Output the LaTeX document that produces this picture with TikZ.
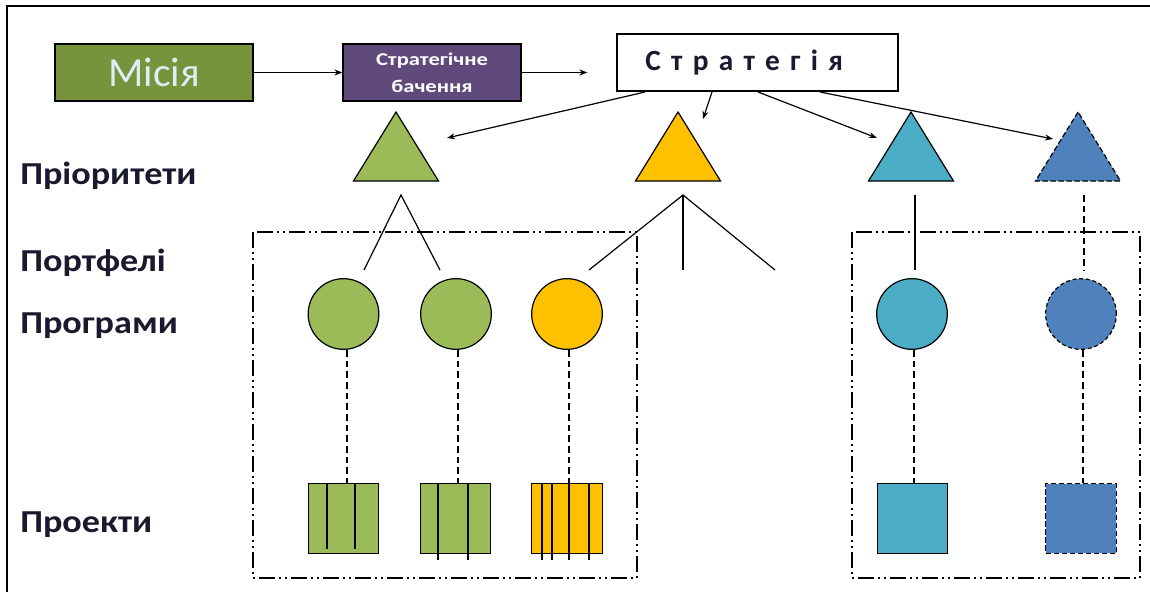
\documentclass[tikz,border=0pt]{standalone}
\usepackage{fontspec}
\setmainfont{Carlito}
\usetikzlibrary{arrows.meta}
\definecolor{cGreen}{HTML}{9BBB59}
\definecolor{cOlive}{HTML}{77933C}
\definecolor{cPurple}{HTML}{604A7B}
\definecolor{cOrange}{HTML}{FFC000}
\definecolor{cTeal}{HTML}{4BACC6}
\definecolor{cBlue}{HTML}{4F81BD}
\definecolor{cMisText}{HTML}{DDEEF6}
\definecolor{cDark}{HTML}{1A1A2E}
\tikzset{
  px/.style={x=0.75pt,y=-0.75pt},
  arr/.style={-{Stealth[length=6pt,width=4.5pt]},line width=0.9pt},
  topbox/.style={draw=black,line width=1pt,minimum height=42.75pt,inner sep=0pt},
  tri/.style={draw=black,line width=0.9pt},
  prog/.style={circle,draw=black,line width=0.9pt,minimum size=53pt,inner sep=0pt},
  proj/.style={rectangle,draw=black,line width=0.9pt,minimum width=53pt,minimum height=52pt,inner sep=0pt},
  link/.style={line width=0.9pt},
  dlink/.style={line width=0.9pt,dash pattern=on 5pt off 3pt},
  stripe/.style={line width=1.2pt},
  grp/.style={line width=1.1pt,dash pattern=on 12pt off 3pt on 1.5pt off 3pt on 1.5pt off 3pt},
  lvl/.style={anchor=west,font=\bfseries\fontsize{24}{27}\selectfont\addfontfeatures{FakeStretch=1.13},text=cDark,inner sep=0pt},
}
\begin{document}
\begin{tikzpicture}[px]
\useasboundingbox (0,0) rectangle (1150,592);
% outer frame (top and left)
\draw[line width=1.6pt] (1150,6) -- (7,6) -- (7,592);

% top row
\node[topbox,fill=cOlive,minimum width=148.5pt,text=cMisText,font=\fontsize{31}{34}\selectfont] (mis) at (154,72.5) {Місія};
\node[topbox,fill=cPurple,minimum width=133.5pt,text=white,font=\bfseries\fontsize{13.5}{20}\selectfont\addfontfeatures{FakeStretch=1.25},align=center] (vis) at (432,72.5) {Стратегічне\\бачення};
\node[topbox,fill=white,minimum width=210.75pt,text=cDark,font=\bfseries\fontsize{22}{25}\selectfont] (str) at (757.5,62.5) {\addfontfeatures{LetterSpace=35}Стратегія\hspace*{20pt}};
\draw[arr] (mis) -- (vis);
\draw[arr,shorten >=21.75pt] (vis.east) -- (vis.east -| str.west);

% triangles (priorities)
\coordinate (t1) at (396,112); \coordinate (t2) at (678,112);
\coordinate (t3) at (911,112); \coordinate (t4) at (1078,112);
\fill[cGreen] (t1) -- ++(-42.5,69) -- ++(85,0) -- cycle;
\draw[tri] (t1) -- ++(-42.5,69) -- ++(85,0) -- cycle;
\fill[cOrange] (t2) -- ++(-42.5,69) -- ++(85,0) -- cycle;
\draw[tri] (t2) -- ++(-42.5,69) -- ++(85,0) -- cycle;
\fill[cTeal] (t3) -- ++(-42.5,69) -- ++(85,0) -- cycle;
\draw[tri] (t3) -- ++(-42.5,69) -- ++(85,0) -- cycle;
\fill[cBlue] (t4) -- ++(-42.5,69) -- ++(85,0) -- cycle;
\draw[tri,dash pattern=on 4pt off 2pt] (t4) -- ++(-42.5,69) -- ++(85,0) -- cycle;

% arrows from strategy
\coordinate (s1) at (645,92); \coordinate (s2) at (712,92);
\coordinate (s3) at (758,92); \coordinate (s4) at (820,92);
\coordinate (a1) at (447,138); \coordinate (a2) at (703,119);
\coordinate (a3) at (877,138); \coordinate (a4) at (1053,139);
\draw[arr] (s1) -- (a1);
\draw[arr] (s2) -- (a2);
\draw[arr] (s3) -- (a3);
\draw[arr] (s4) -- (a4);

% group frames (portfolios)
\draw[grp] (253,232) rectangle (637,578);
\draw[grp] (852,232) rectangle (1140,578);

% level labels
\node[lvl] (lp) at (20,176) {Пріоритети};
\node[lvl] (lf) at (20,263) {Портфелі};
\node[lvl] (lg) at (20,326) {Програми};
\node[lvl] (lr) at (20,525) {Проекти};

% programmes
\node[prog,fill=cGreen] (c1) at (343.5,314) {};
\node[prog,fill=cGreen] (c2) at (456,314) {};
\node[prog,fill=cOrange] (c3) at (567,314) {};
\node[prog,fill=cTeal] (c4) at (912,314) {};
\node[prog,fill=cBlue,dash pattern=on 3pt off 2pt] (c5) at (1081,314) {};

% branch lines from priorities
\coordinate (g0) at (401,195); \coordinate (g1) at (364,270); \coordinate (g2) at (440,270);
\draw[link] (g1) -- (g0) -- (g2);
\coordinate (o0) at (683,195); \coordinate (o1) at (589,270);
\coordinate (o2) at (683,270); \coordinate (o3) at (775,270);
\draw[link] (o1) -- (o0) -- (o3);
\draw[link] (o0) -- (o2);
\coordinate (b0) at (915,195); \coordinate (b1) at (915,270);
\draw[link] (b0) -- (b1);
\coordinate (d0) at (1084,195); \coordinate (d1) at (1084,270);
\draw[dlink] (d0) -- (d1);

% projects
\node[proj,fill=cGreen] (p1) at (343.5,518.5) {};
\node[proj,fill=cGreen] (p2) at (455.5,518.5) {};
\node[proj,fill=cOrange] (p3) at (567,518.5) {};
\node[proj,fill=cTeal] (p4) at (912.5,518.5) {};
\node[proj,fill=cBlue,dash pattern=on 4pt off 2pt] (p5) at (1081,518.5) {};

% stripes
\draw[stripe] (327,484) -- (327,549) (355,484) -- (355,549);
\draw[stripe] (438,484) -- (438,560) (468,484) -- (468,560);
\draw[stripe] (542,484) -- (542,560) (552,484) -- (552,560)
              (569,484) -- (569,560) (589,484) -- (589,560);

% programme to project connectors
\draw[dlink] (c1.south -| 347,0) -- (p1.north -| 347,0);
\draw[dlink] (c2.south -| 458,0) -- (p2.north -| 458,0);
\draw[dlink] (c3.south -| 569,0) -- (p3.north -| 569,0);
\draw[dlink] (c4.south -| 914,0) -- (p4.north -| 914,0);
\draw[dlink] (c5.south -| 1083,0) -- (p5.north -| 1083,0);
\end{tikzpicture}
\end{document}
